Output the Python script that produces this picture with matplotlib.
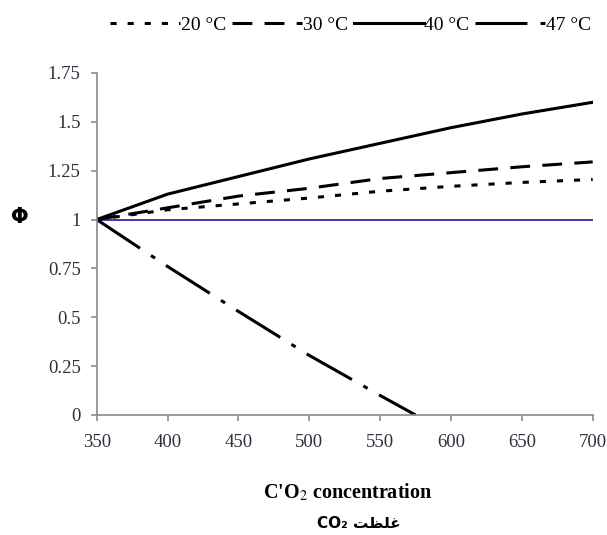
import matplotlib
matplotlib.use("Agg")
import matplotlib.pyplot as plt

# CO2 concentration (x) and relative response for each temperature
co2 = [350, 400, 450, 500, 550, 600, 650, 700]
phi_20 = [1.0, 1.05, 1.08, 1.11, 1.145, 1.17, 1.19, 1.205]
phi_30 = [1.0, 1.06, 1.12, 1.16, 1.21, 1.24, 1.27, 1.295]
phi_40 = [1.0, 1.13, 1.22, 1.31, 1.39, 1.47, 1.54, 1.60]
co2_47 = [350, 400, 450, 500, 550, 575]
phi_47 = [1.0, 0.76, 0.53, 0.305, 0.10, 0.0]
ref_x = [350, 700]
ref_y = [1.0, 1.0]

series_labels = ["20 °C", "30 °C", "40 °C", "47 °C"]
yticks = [0, 0.25, 0.5, 0.75, 1, 1.25, 1.5, 1.75]
ytick_labels = ["0", "0.25", "0.5", "0.75", "1", "1.25", "1.5", "1.75"]
xticks = [350, 400, 450, 500, 550, 600, 650, 700]

plt.rcParams['font.family'] = ['Liberation Serif', 'DejaVu Serif']
plt.rcParams['mathtext.fontset'] = 'stix'

fig = plt.figure(figsize=(6.07, 5.35), dpi=100)
ax = fig.add_axes([0.1593, 0.2243, 0.8171, 0.6393])

ax.plot(ref_x, ref_y, color='#2a2aa8', lw=1.3)
l20, = ax.plot(co2, phi_20, color='black', lw=2.2, ls=(0, (2.0, 3.6)))
l30, = ax.plot(co2, phi_30, color='black', lw=2.2, ls=(0, (6.5, 4.0)))
l40, = ax.plot(co2, phi_40, color='black', lw=2.2, ls='-')
l47, = ax.plot(co2_47, phi_47, color='black', lw=2.2, ls=(0, (17, 4.3, 1.6, 4.3)))

ax.set_xlim(350, 700)
ax.set_ylim(0, 1.75)
ax.set_xticks(xticks)
ax.set_yticks(yticks)
ax.set_yticklabels(ytick_labels)
ax.spines['right'].set_color('none')
ax.spines['top'].set_color('none')
for s in ['left', 'bottom']:
    ax.spines[s].set_color('#8a8a8a')
    ax.spines[s].set_linewidth(1.2)
ax.tick_params(axis='both', colors='#8a8a8a', labelcolor='#30303c',
               labelsize=13.5, length=4.5, width=1.2)
ax.tick_params(axis='x', pad=9)
ax.tick_params(axis='y', pad=7)

fig.legend([l20, l30, l40, l47], series_labels,
           loc='center', bbox_to_anchor=(0.5775, 0.953), ncol=4, frameon=False,
           fontsize=14, handlelength=3.6, handletextpad=0.05, columnspacing=0.3)

fig.text(0.5725, 0.080, "C'O$_2$ concentration", ha='center', va='center',
         fontsize=14.5, fontweight='bold')
# Persian label, written in visual order with shaped glyphs
fig.text(0.5906, 0.0224, "CO\u2082 \uFE96\uFEC8\uFEE0\uFECF", ha='center', va='center',
         fontsize=11, fontweight='bold', family=['DejaVu Sans'])
fig.text(0.033, 0.594, "Φ", ha='center', va='center', fontsize=15,
         fontweight='bold', family=['DejaVu Sans'])

fig.savefig("out.png", dpi=100)
